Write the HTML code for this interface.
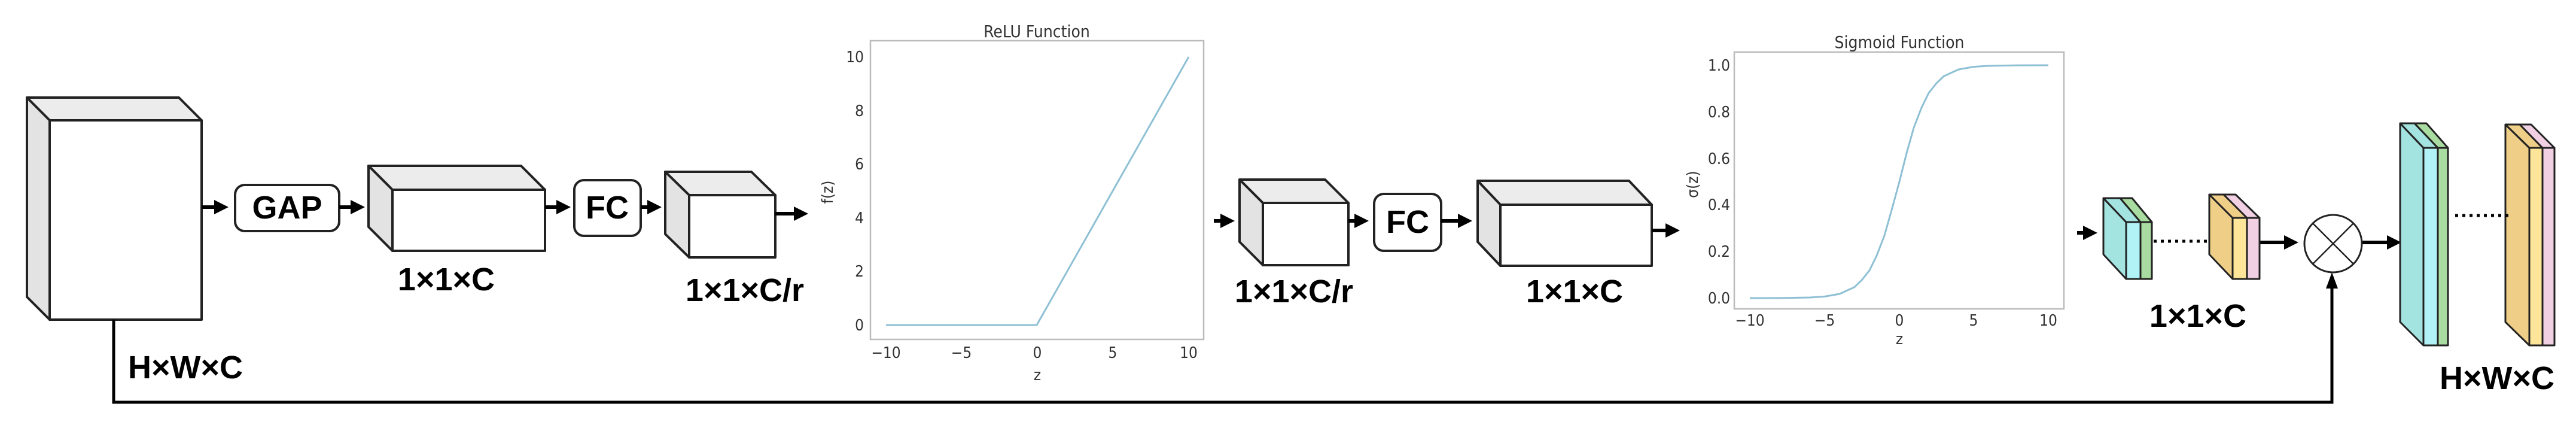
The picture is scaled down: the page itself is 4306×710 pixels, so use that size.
<!DOCTYPE html>
<html><head><meta charset="utf-8"><style>
html,body{margin:0;padding:0;background:#fff;}
svg{display:block;}
.lb{font-family:"Liberation Sans",Arial,sans-serif;font-weight:bold;font-size:54px;fill:#000;}
.tk{font-family:"DejaVu Sans Condensed","DejaVu Sans","Liberation Sans",sans-serif;font-size:26px;fill:#333;}
.tt{font-family:"DejaVu Sans Condensed","DejaVu Sans","Liberation Sans",sans-serif;font-size:28px;fill:#333;}
</style></head><body>
<svg width="4306" height="710" viewBox="0 0 4306 710" xmlns="http://www.w3.org/2000/svg">
<defs>
<marker id="ah" markerWidth="4" markerHeight="4" refX="3" refY="2" orient="auto" markerUnits="strokeWidth">
<path d="M0,0 L4,2 L0,4 Z" fill="#000"/></marker>
</defs>
<g stroke="#222" stroke-width="4" stroke-linejoin="round">
<!-- Big box -->
<polygon points="45,163 299,163 337,201 83,201" fill="#ececec"/>
<polygon points="45,163 83,201 83,534 45,496" fill="#e3e3e3"/>
<rect x="83" y="201" width="254" height="333" fill="#fff"/>
<!-- Box2 -->
<polygon points="616,277 871,277 911,317 656,317" fill="#ececec"/>
<polygon points="616,277 656,317 656,419 616,379" fill="#e3e3e3"/>
<rect x="656" y="317" width="255" height="102" fill="#fff"/>
<!-- Box3 -->
<polygon points="1112,287 1256,287 1296,326 1152,326" fill="#ececec"/>
<polygon points="1112,287 1152,326 1152,430 1112,391" fill="#e3e3e3"/>
<rect x="1152" y="326" width="144" height="104" fill="#fff"/>
<!-- Box4 -->
<polygon points="2072,300 2215,300 2254,339 2111,339" fill="#ececec"/>
<polygon points="2072,300 2111,339 2111,443 2072,404" fill="#e3e3e3"/>
<rect x="2111" y="339" width="143" height="104" fill="#fff"/>
<!-- Box5 -->
<polygon points="2470,302 2723,302 2761,342 2508,342" fill="#ececec"/>
<polygon points="2470,302 2508,342 2508,444 2470,404" fill="#e3e3e3"/>
<rect x="2508" y="342" width="253" height="102" fill="#fff"/>
<!-- GAP / FC boxes -->
<rect x="393" y="309" width="174" height="77" rx="16" fill="#fff"/>
<rect x="960" y="301" width="111" height="93" rx="16" fill="#fff"/>
<rect x="2297" y="324" width="112" height="95" rx="16" fill="#fff"/>
</g>
<text class="lb" x="480" y="365" text-anchor="middle" font-size="50">GAP</text>
<text class="lb" x="1015" y="365" text-anchor="middle" font-size="50">FC</text>
<text class="lb" x="2353" y="389" text-anchor="middle" font-size="50">FC</text>
<!-- arrows -->
<g stroke="#000" stroke-width="6" fill="none" marker-end="url(#ah)">
<line x1="337" y1="346" x2="376" y2="346"/>
<line x1="567" y1="346" x2="604" y2="346"/>
<line x1="911" y1="346" x2="948" y2="346"/>
<line x1="1071" y1="346" x2="1100" y2="346"/>
<line x1="1296" y1="357" x2="1345" y2="357"/>
<line x1="2029" y1="369" x2="2058" y2="369"/>
<line x1="2254" y1="369" x2="2282" y2="369"/>
<line x1="2409" y1="369" x2="2455" y2="369"/>
<line x1="2761" y1="385" x2="2802" y2="385"/>
<line x1="3472" y1="389" x2="3500" y2="389"/>
<line x1="3777" y1="405" x2="3836" y2="405"/>
<line x1="3948" y1="405" x2="4008" y2="405"/>
</g>
<!-- skip connection -->
<polyline points="190,534 190,672 3898,672 3898,470" fill="none" stroke="#000" stroke-width="5"/>
<path d="M3898,455 L3888,482 L3908,482 Z" fill="#000"/>
<!-- labels -->
<text class="lb" x="746" y="485" text-anchor="middle">1×1×C</text>
<text class="lb" x="1245" y="503" text-anchor="middle">1×1×C/r</text>
<text class="lb" x="214" y="632">H×W×C</text>
<text class="lb" x="2163" y="505" text-anchor="middle">1×1×C/r</text>
<text class="lb" x="2632" y="505" text-anchor="middle">1×1×C</text>
<text class="lb" x="3674" y="546" text-anchor="middle">1×1×C</text>
<text class="lb" x="4174" y="650" text-anchor="middle">H×W×C</text>
<!-- ReLU plot -->
<rect x="1455" y="68" width="557" height="499" fill="#fff" stroke="#bbb" stroke-width="2.5"/>
<text class="tt" x="1733" y="62" text-anchor="middle">ReLU Function</text>
<polyline points="1481,543 1733,543 1987,95" fill="none" stroke="#8ec0d4" stroke-width="3"/>
<g class="tk" text-anchor="end">
<text x="1444" y="552">0</text><text x="1444" y="462">2</text><text x="1444" y="373">4</text>
<text x="1444" y="283">6</text><text x="1444" y="194">8</text><text x="1444" y="104">10</text>
</g>
<g class="tk" text-anchor="middle">
<text x="1481" y="598">−10</text><text x="1607" y="598">−5</text><text x="1734" y="598">0</text>
<text x="1860" y="598">5</text><text x="1987" y="598">10</text>
<text x="1734" y="635">z</text>
</g>
<text class="tk" x="0" y="0" text-anchor="middle" transform="translate(1392,321) rotate(-90)">f(z)</text>
<!-- Sigmoid plot -->
<rect x="2899" y="87" width="551" height="429" fill="#fff" stroke="#bbb" stroke-width="2.5"/>
<text class="tt" x="3175" y="80" text-anchor="middle">Sigmoid Function</text>
<polyline points="2925,498 2975,497.9 3025,497 3050,495.4 3075,491 3100,479.6 3112,468 3125,451.7 3137,427.2 3150,393.4 3162,351 3175,303.5 3187,256 3199,213.6 3212,179.8 3224,155.3 3237,139 3249,127.4 3274,116 3299,111.6 3324,110 3374,109.1 3424,109" fill="none" stroke="#8ec0d4" stroke-width="3"/>
<g class="tk" text-anchor="end">
<text x="2892" y="507">0.0</text><text x="2892" y="429">0.2</text><text x="2892" y="351">0.4</text>
<text x="2892" y="274">0.6</text><text x="2892" y="196">0.8</text><text x="2892" y="118">1.0</text>
</g>
<g class="tk" text-anchor="middle">
<text x="2925" y="544">−10</text><text x="3050" y="544">−5</text><text x="3175" y="544">0</text>
<text x="3299" y="544">5</text><text x="3424" y="544">10</text>
<text x="3175" y="575">z</text>
</g>
<text class="tk" x="0" y="0" text-anchor="middle" transform="translate(2838,308) rotate(-90)">σ(z)</text>
<!-- small colored blocks -->
<g stroke="#222" stroke-width="3" stroke-linejoin="round">
<polygon points="3516,331 3554,371 3554,466 3516,425" fill="#a3e3e0"/>
<polygon points="3516,331 3544,331 3578,371 3554,371" fill="#a3e3e0"/>
<polygon points="3544,331 3564,331 3597,371 3578,371" fill="#a8dca0"/>
<rect x="3554" y="371" width="24" height="95" fill="#b0f2f6"/>
<rect x="3578" y="371" width="19" height="95" fill="#a8dca0"/>
<polygon points="3693,325 3732,364 3732,466 3693,425" fill="#efcf88"/>
<polygon points="3693,325 3717,325 3756,364 3732,364" fill="#efcf88"/>
<polygon points="3717,325 3737,325 3777,364 3756,364" fill="#f0d0e2"/>
<rect x="3732" y="364" width="24" height="102" fill="#fde69a"/>
<rect x="3756" y="364" width="21" height="102" fill="#f0d0e2"/>
<polygon points="4012,206 4051,247 4051,577 4012,538" fill="#a3e3e0"/>
<polygon points="4012,206 4036,206 4075,247 4051,247" fill="#a3e3e0"/>
<polygon points="4036,206 4056,206 4092,247 4075,247" fill="#a8dca0"/>
<rect x="4051" y="247" width="24" height="330" fill="#b0f2f6"/>
<rect x="4075" y="247" width="17" height="330" fill="#a8dca0"/>
<polygon points="4188,208 4228,247 4228,577 4188,538" fill="#efcf88"/>
<polygon points="4188,208 4212,208 4250,247 4228,247" fill="#efcf88"/>
<polygon points="4212,208 4231,208 4270,247 4250,247" fill="#f0d0e2"/>
<rect x="4228" y="247" width="22" height="330" fill="#fde69a"/>
<rect x="4250" y="247" width="20" height="330" fill="#f0d0e2"/>
</g>
<g stroke="#000" stroke-width="5" stroke-dasharray="5,7">
<line x1="3600" y1="403" x2="3690" y2="403"/>
<line x1="4104" y1="360" x2="4200" y2="360"/>
</g>
<!-- multiply -->
<circle cx="3900" cy="407" r="48" fill="#fff" stroke="#222" stroke-width="3"/>
<line x1="3866" y1="373" x2="3934" y2="441" stroke="#222" stroke-width="2.5"/>
<line x1="3934" y1="373" x2="3866" y2="441" stroke="#222" stroke-width="2.5"/>
</svg>
</body></html>
